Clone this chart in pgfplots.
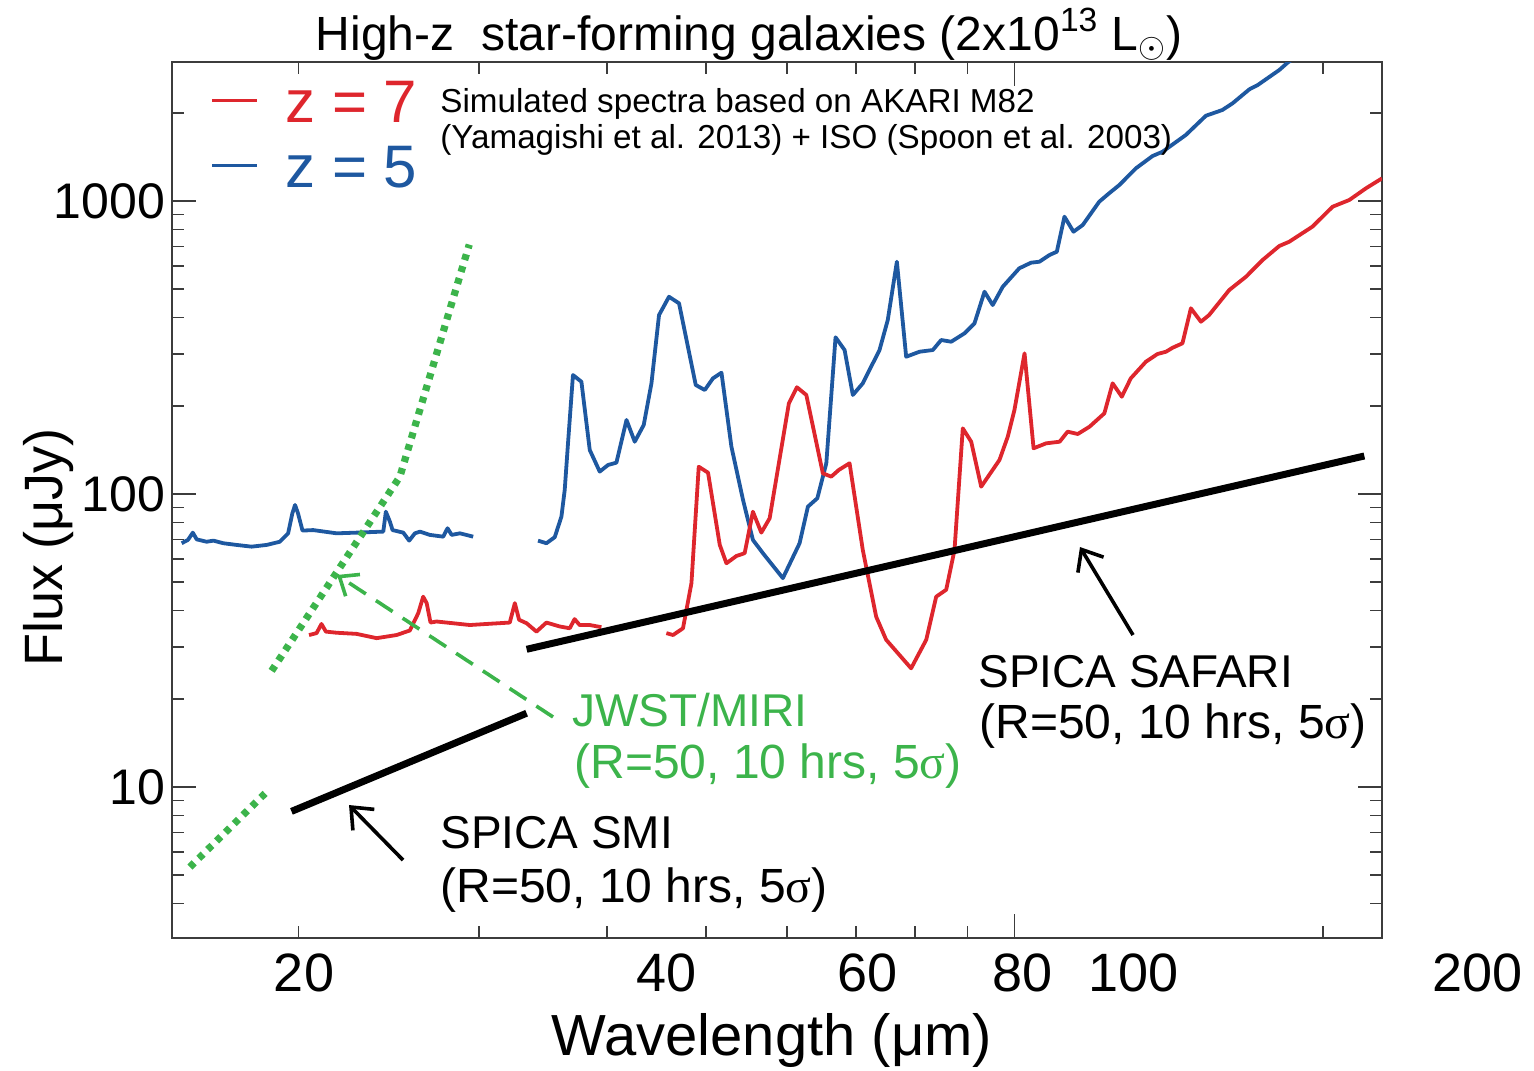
\documentclass[border=0pt]{standalone}
\usepackage{pgfplots}
\pgfplotsset{compat=1.18}
\usepackage{fontspec}
\setmainfont{Liberation Sans}
\newfontfamily\greekserif{Liberation Serif}
\usetikzlibrary{arrows.meta}

\definecolor{zred}{RGB}{222,38,45}
\definecolor{zblue}{RGB}{30,88,160}
\definecolor{miri}{RGB}{60,180,75}
\definecolor{axgray}{RGB}{60,60,60}

\newcommand{\fs}[1]{\fontsize{#1}{#1}\selectfont}
\newcommand{\sig}{{\greekserif σ}}

\begin{document}
\begin{tikzpicture}
\begin{axis}[
    xmode=log, ymode=log,
    scale only axis,
    width=605pt, height=438pt,
    xmin=15.05, xmax=228.5,
    ymin=3.05, ymax=2982,
    clip mode=individual,
    axis line style={axgray, line width=0.8pt},
    tick style={axgray, line width=0.8pt},
    major tick length=12pt, minor tick length=6pt,
    xtick={100},
    minor xtick={20,30,40,50,60,70,80,90,200},
    xticklabels={},
    ytick={10,100,1000},
    yticklabels={10,100,1000},
    minor ytick={4,5,6,7,8,9,20,30,40,50,60,70,80,90,200,300,400,500,600,700,800,900,2000},
    yticklabel style={font=\fs{25pt}, text=black},
]
% z = 5 (blue)
\addplot[zblue, line width=1.9pt, line join=round] coordinates {
(15.38,67.9) (15.60,69.7) (15.77,73.8) (15.91,70.0) (16.27,68.7) (16.52,69.3)
(16.89,67.9) (17.40,67.0) (18.00,66.1) (18.62,67.0) (19.18,68.7) (19.54,73.4)
(19.73,85.9) (19.85,91.7) (19.98,85.9) (20.18,75.0) (20.67,75.3) (21.79,73.4)
(22.79,73.8) (24.20,74.4) (24.34,87.0) (24.56,80.5) (24.71,75.3) (25.31,73.8)
(25.65,69.3) (25.98,73.4) (26.28,74.4) (26.87,72.5) (27.69,71.5) (27.96,76.4)
(28.22,72.5) (28.75,73.4) (29.62,71.5)
};
\addplot[zblue, line width=1.9pt, line join=round] coordinates {
(34.27,69.3) (34.92,67.9) (35.58,71.2) (36.12,83.7) (36.39,103.2) (36.66,148.9)
(37.07,254.7) (37.78,241.6) (38.50,141.3) (39.37,119.2) (40.11,125.6) (40.87,127.9)
(41.81,178.9) (42.59,150.8) (43.46,172.0) (44.22,238.6) (44.98,408.1) (46.00,471.2)
(47.05,447.4) (48.85,235.5) (49.85,226.4) (50.78,248.2) (51.76,259.4) (52.93,145.0)
(54.33,95.4) (55.55,69.7) (56.81,62.8) (59.42,51.6) (61.70,67.9) (62.86,90.5)
(64.21,96.7) (65.52,127.3) (66.89,342.6) (68.27,310.0) (69.54,217.7) (71.12,238.6)
(73.84,310.0) (75.23,392.4) (76.78,620.7) (78.41,294.1) (80.79,305.9) (83.24,310.0)
(84.82,335.4) (86.75,330.9) (89.38,353.4) (91.41,382.3) (93.49,490.2) (95.24,441.5)
(97.41,509.8) (101.1,589.3) (103.8,615.8) (105.8,620.7) (108.2,654.2) (110.0,671.3)
(111.9,884.0) (114.2,785.7) (116.6,828.2) (121.0,994.6) (123.7,1062) (126.6,1134)
(131.4,1293) (136.4,1424) (139.5,1473) (147.0,1680) (153.8,1955) (159.6,2045)
(163.3,2155) (169.6,2406) (172.8,2488) (181.4,2800) (184.8,2966) (187.6,3077)
};
% z = 7 (red)
\addplot[zred, line width=1.9pt, line join=round] coordinates {
(20.48,33.0) (20.83,33.5) (21.06,36.0) (21.27,33.9) (21.79,33.6) (22.79,33.3)
(23.84,32.2) (24.93,33.0) (25.69,34.2) (26.18,39.2) (26.47,44.6) (26.68,42.4)
(26.91,36.4) (27.28,36.7) (28.32,36.2) (29.40,35.7) (30.53,36.0) (32.16,36.4)
(32.53,42.4) (32.84,37.2) (33.40,36.2) (34.15,33.9) (34.92,36.4) (35.98,35.3)
(36.80,34.8) (37.21,37.4) (37.63,35.7) (38.50,35.7) (39.52,35.1)
};
\addplot[zred, line width=1.9pt, line join=round] coordinates {
(45.73,33.5) (46.42,33.0) (47.47,34.8) (48.38,49.6) (49.18,123.9) (50.22,118.2)
(51.56,67.0) (52.34,58.0) (53.52,61.4) (54.53,62.8) (55.55,87.0) (56.61,73.8)
(57.68,82.6) (60.23,203.9) (61.33,231.3) (62.64,217.7) (65.01,117.6) (66.25,114.6)
(67.39,120.8) (69.03,127.3) (71.12,64.4) (73.30,38.1) (74.96,31.8) (79.29,25.4)
(82.02,31.8) (83.87,44.6) (85.78,47.1) (87.40,64.4) (89.04,167.5) (90.74,150.8)
(92.80,105.9) (96.69,130.6) (98.51,156.9) (100.0,193.5) (102.3,302.1) (104.4,143.2)
(107.4,148.9) (110.7,150.8) (112.7,163.2) (115.3,160.2) (118.4,169.7) (122.4,188.5)
(124.7,238.6) (127.3,214.8) (129.9,248.2) (134.4,282.8) (137.9,300.4) (140.6,305.9)
(142.7,315.6) (145.9,326.8) (148.7,430.2) (152.1,387.3) (154.9,408.1) (162.1,496.8)
(168.3,551.5) (174.7,629.0) (181.4,702.2) (185.5,726.3) (195.4,817.2) (204.5,956.3)
(212.3,1008) (220.4,1105) (228.5,1195)
};
% SPICA sensitivities
\addplot[black, line width=3.5pt] coordinates {(19.69,8.25) (33.40,17.85)};
\addplot[black, line width=3.5pt] coordinates {(33.40,29.5) (219.6,134.8)};
% JWST/MIRI sensitivity
\addplot[miri, line width=3.6pt, dash pattern=on 3pt off 3.2pt] coordinates {(15.67,5.33) (18.68,9.73)};
\addplot[miri, line width=3.6pt, dash pattern=on 3pt off 3.2pt] coordinates {(18.83,24.9) (25.12,114.6) (29.36,710)};

% legend
\draw[zred, line width=1.5pt] (rel axis cs:0.0331,0.9555) -- (rel axis cs:0.0702,0.9555);
\draw[zblue, line width=1.5pt] (rel axis cs:0.0331,0.8824) -- (rel axis cs:0.0702,0.8824);
\node[anchor=base west, text=zred, font=\fs{30pt}, inner sep=0pt] at (rel axis cs:0.0934,0.9304) {z = 7};
\node[anchor=base west, text=zblue, font=\fs{30pt}, inner sep=0pt] at (rel axis cs:0.0934,0.8562) {z = 5};
\node[anchor=base west, font=\fs{16.6pt}, inner sep=0pt] at (rel axis cs:0.2215,0.9418) {Simulated spectra based on AKARI M82};
\node[anchor=base west, font=\fs{16.6pt}, inner sep=0pt] at (rel axis cs:0.2215,0.9007) {(Yamagishi et al. 2013) + ISO (Spoon et al. 2003)};

% title
\node[anchor=base, font=\fs{24pt}, inner sep=0pt] at (rel axis cs:0.4769,1.0137) {High-z\ \ star-forming galaxies (2x10\textsuperscript{13} L$_\odot$)};

% annotations
\node[anchor=base west, text=miri, font=\fs{23pt}, inner sep=0pt] at (rel axis cs:0.3306,0.2420) {JWST/MIRI};
\node[anchor=base west, text=miri, font=\fs{24pt}, inner sep=0pt] at (rel axis cs:0.3322,0.1826) {(R=50, 10 hrs, 5\sig)};
\node[anchor=base west, font=\fs{23pt}, inner sep=0pt] at (rel axis cs:0.6661,0.2865) {SPICA SAFARI};
\node[anchor=base west, font=\fs{24pt}, inner sep=0pt] at (rel axis cs:0.6669,0.2283) {(R=50, 10 hrs, 5\sig)};
\node[anchor=base west, font=\fs{23pt}, inner sep=0pt] at (rel axis cs:0.2215,0.1027) {SPICA SMI};
\node[anchor=base west, font=\fs{24pt}, inner sep=0pt] at (rel axis cs:0.2215,0.0411) {(R=50, 10 hrs, 5\sig)};

\draw[black, line width=1.8pt, -{Straight Barb[length=9pt, width=15pt]}] (rel axis cs:0.1909,0.0890) -- (rel axis cs:0.1463,0.1518);
\draw[black, line width=1.8pt, -{Straight Barb[length=9pt, width=15pt]}] (rel axis cs:0.7942,0.3459) -- (rel axis cs:0.7504,0.4463);
\draw[miri, line width=1.8pt, dash pattern=on 10pt off 6pt, -{Straight Barb[length=8pt, width=13pt]}] (rel axis cs:0.3149,0.2523) -- (rel axis cs:0.1364,0.4144);

% x tick labels, placed where the figure has them
\node[anchor=base, font=\fs{27pt}, inner sep=0pt] at (rel axis cs:0.1091,-0.0616) {20};
\node[anchor=base, font=\fs{27pt}, inner sep=0pt] at (rel axis cs:0.4083,-0.0616) {40};
\node[anchor=base, font=\fs{27pt}, inner sep=0pt] at (rel axis cs:0.5752,-0.0616) {60};
\node[anchor=base, font=\fs{27pt}, inner sep=0pt] at (rel axis cs:0.7033,-0.0616) {80};
\node[anchor=base, font=\fs{27pt}, inner sep=0pt] at (rel axis cs:0.7950,-0.0616) {100};
\node[anchor=base, font=\fs{27pt}, inner sep=0pt] at (rel axis cs:1.0793,-0.0616) {200};

% axis labels
\node[anchor=base, font=\fs{29pt}, inner sep=0pt] at (rel axis cs:0.4959,-0.1336) {Wavelength (μm)};
\node[anchor=base, rotate=90, font=\fs{27pt}, inner sep=0pt] at (rel axis cs:-0.0909,0.4463) {Flux (μJy)};

\coordinate (bbsw) at (rel axis cs:-0.14215,-0.15068);
\coordinate (bbne) at (rel axis cs:1.12562,1.07078);
\end{axis}
\pgfresetboundingbox
\path[use as bounding box] (bbsw) rectangle (bbne);
\end{tikzpicture}
\end{document}
